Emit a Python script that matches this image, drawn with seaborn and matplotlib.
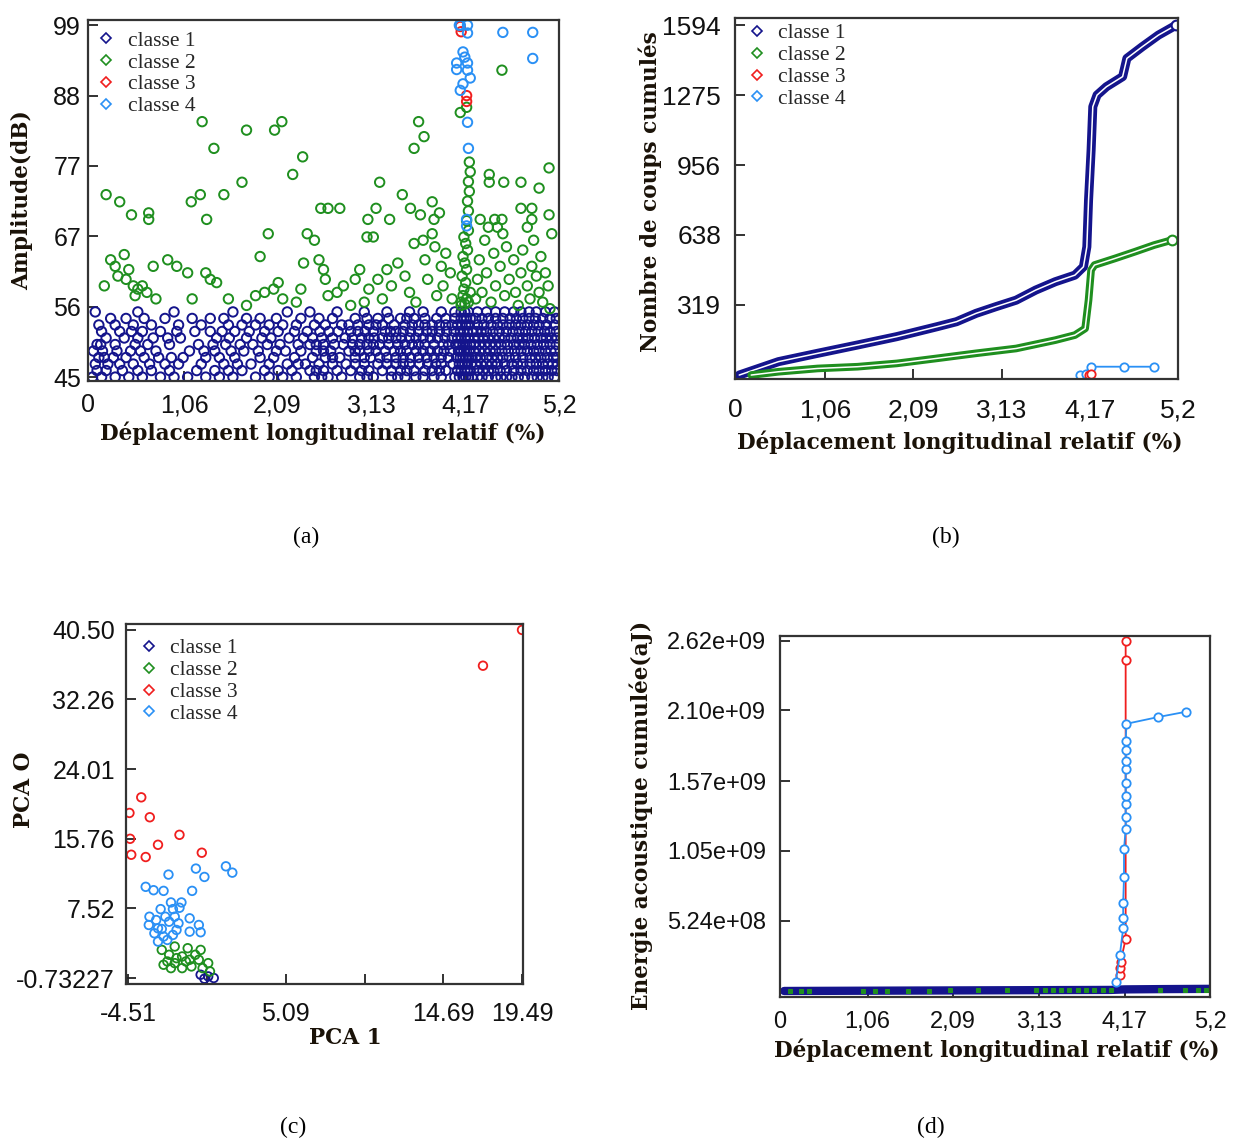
import numpy as np
import pandas as pd
import matplotlib
matplotlib.use('Agg')
import matplotlib.pyplot as plt
from matplotlib.lines import Line2D
from matplotlib.markers import MarkerStyle
import seaborn as sns

# couleurs des classes
col_c1 = '#14148c'
col_c2 = '#1f8f1f'
col_c3 = '#f01e1e'
col_c4 = '#2a90f5'
classes = ['classe 1', 'classe 2', 'classe 3', 'classe 4']

# ---------------- (a) amplitude / deplacement ----------------
dep_ticks = [0, 1.06, 2.09, 3.13, 4.17, 5.2]
dep_labels = ['0', '1,06', '2,09', '3,13', '4,17', '5,2']
amp_ticks = [45, 55.8, 66.6, 77.4, 88.2, 99]
amp_labels = ['45', '56', '67', '77', '88', '99']

# classe 1 : une ligne de positions par niveau d'amplitude (dB entiers)
c1_db = [45, 46, 47, 48, 49, 50, 51, 52, 53, 54, 55]
c1_rows = [
    [0.05, 0.15, 0.3, 0.45, 0.6, 0.8, 0.95, 1.1, 1.3, 1.45, 1.6, 1.85, 2.0, 2.15, 2.3, 2.5, 2.65, 2.8, 3.0, 3.15,
     3.35, 3.5, 3.7, 3.9, 4.05, 4.1, 4.14, 4.17, 4.2, 4.24, 4.35, 4.5, 4.62, 4.75, 4.9, 5.02, 5.15,
     2.58, 3.08, 3.42, 3.62, 3.82, 4.3, 4.42, 4.56, 4.68, 4.82, 4.96, 5.08],
    [0.1, 0.2, 0.38, 0.55, 0.7, 0.9, 1.2, 1.4, 1.55, 1.7, 1.95, 2.1, 2.25, 2.45, 2.6, 2.75, 2.9, 3.1, 3.25, 3.45,
     3.6, 3.8, 3.95, 4.08, 4.12, 4.16, 4.19, 4.22, 4.3, 4.42, 4.55, 4.7, 4.85, 4.98, 5.12,
     2.52, 3.02, 3.35, 3.52, 3.72, 3.88, 4.36, 4.48, 4.62, 4.78, 4.92, 5.05, 5.18],
    [0.08, 0.22, 0.35, 0.5, 0.68, 0.85, 1.0, 1.25, 1.5, 1.65, 1.8, 2.0, 2.2, 2.4, 2.55, 2.7, 2.85, 3.05, 3.2, 3.4,
     3.55, 3.75, 3.9, 4.03, 4.1, 4.13, 4.16, 4.19, 4.23, 4.28, 4.4, 4.52, 4.68, 4.8, 4.95, 5.08, 5.18,
     2.32, 2.95, 3.3, 3.48, 3.66, 3.84, 4.34, 4.46, 4.6, 4.74, 4.88, 5.02, 5.13],
    [0.12, 0.18, 0.28, 0.42, 0.62, 0.78, 0.92, 1.05, 1.3, 1.45, 1.62, 1.9, 2.05, 2.28, 2.48, 2.62, 2.78, 2.95, 3.12,
     3.3, 3.48, 3.65, 3.82, 3.98, 4.07, 4.11, 4.14, 4.17, 4.2, 4.24, 4.33, 4.46, 4.58, 4.72, 4.88, 5.0, 5.14,
     2.7, 3.05, 3.22, 3.4, 3.56, 3.74, 3.9, 4.28, 4.4, 4.52, 4.65, 4.8, 4.94, 5.07, 5.18],
    [0.06, 0.16, 0.32, 0.47, 0.58, 0.75, 1.12, 1.28, 1.4, 1.58, 1.72, 1.88, 2.08, 2.18, 2.35, 2.52, 2.68, 2.88, 3.0,
     3.18, 3.38, 3.52, 3.7, 3.86, 4.0, 4.09, 4.12, 4.15, 4.18, 4.21, 4.26, 4.38, 4.5, 4.64, 4.78, 4.92, 5.05, 5.16,
     2.6, 2.95, 3.1, 3.28, 3.45, 3.62, 3.78, 3.93, 4.32, 4.44, 4.57, 4.71, 4.85, 4.98, 5.11],
    [0.1, 0.14, 0.3, 0.52, 0.66, 0.9, 1.22, 1.38, 1.52, 1.68, 1.82, 1.98, 2.12, 2.32, 2.45, 2.6, 2.72, 2.92, 3.08,
     3.22, 3.42, 3.58, 3.72, 3.92, 4.06, 4.1, 4.14, 4.18, 4.22, 4.32, 4.44, 4.56, 4.7, 4.82, 4.96, 5.1,
     2.52, 2.82, 3.0, 3.15, 3.32, 3.5, 3.65, 3.82, 3.98, 4.26, 4.38, 4.5, 4.63, 4.76, 4.89, 5.03, 5.17],
    [0.2, 0.4, 0.55, 0.72, 0.88, 1.02, 1.42, 1.56, 1.75, 1.92, 2.02, 2.22, 2.38, 2.58, 2.7, 2.84, 3.02, 3.16, 3.32,
     3.46, 3.62, 3.78, 3.94, 4.08, 4.12, 4.16, 4.2, 4.27, 4.36, 4.48, 4.6, 4.74, 4.86, 5.0, 5.12,
     2.48, 2.92, 3.1, 3.25, 3.4, 3.55, 3.7, 3.86, 4.02, 4.31, 4.42, 4.54, 4.67, 4.8, 4.93, 5.06, 5.18],
    [0.15, 0.35, 0.48, 0.6, 0.8, 0.98, 1.18, 1.35, 1.48, 1.62, 1.78, 1.95, 2.1, 2.28, 2.42, 2.56, 2.76, 2.9, 3.06,
     3.28, 3.4, 3.56, 3.74, 3.88, 4.04, 4.11, 4.15, 4.19, 4.25, 4.34, 4.47, 4.62, 4.76, 4.9, 5.04, 5.17,
     2.66, 2.98, 3.15, 3.34, 3.48, 3.65, 3.8, 3.96, 4.29, 4.4, 4.54, 4.69, 4.83, 4.97, 5.1],
    [0.12, 0.3, 0.5, 0.7, 1.0, 1.25, 1.55, 1.7, 1.85, 2.0, 2.15, 2.3, 2.5, 2.62, 2.8, 2.98, 3.1, 3.25, 3.5, 3.65,
     3.8, 3.95, 4.08, 4.13, 4.17, 4.21, 4.3, 4.45, 4.58, 4.72, 4.85, 4.98, 5.15,
     2.88, 3.18, 3.38, 3.58, 3.72, 3.88, 4.02, 4.37, 4.52, 4.65, 4.78, 4.92, 5.06],
    [0.25, 0.42, 0.62, 0.85, 1.15, 1.35, 1.5, 1.75, 1.9, 2.08, 2.35, 2.55, 2.7, 2.95, 3.2, 3.45, 3.6, 3.85, 4.05,
     4.12, 4.15, 4.18, 4.22, 4.35, 4.5, 4.66, 4.8, 4.94, 5.1,
     3.08, 3.32, 3.52, 3.72, 3.95, 4.28, 4.42, 4.58, 4.73, 4.87, 5.02, 5.17],
    [0.08, 0.55, 0.95, 1.6, 2.2, 2.45, 2.75, 3.05, 3.3, 3.55, 3.9, 4.12, 4.16, 4.2, 4.4, 4.6, 4.78, 4.95, 5.15,
     3.7, 4.05, 4.3, 4.5, 4.7, 4.87, 5.05],
]

c2_x = [0.20, 0.35, 0.48, 0.67, 0.67, 1.14, 1.24, 1.26, 1.39, 1.31, 1.50, 1.70, 1.75, 2.06, 2.14, 1.99, 2.26, 2.37,
        2.57, 2.65, 2.78, 3.22, 3.09, 3.18, 3.33, 3.47, 3.60, 3.65, 3.71, 3.56, 3.67, 3.80, 3.88, 3.82, 4.57, 4.43,
        4.43, 4.59, 4.78, 4.98, 5.09, 4.78, 4.90, 5.09, 4.90, 4.33, 4.49, 4.57, 4.18, 4.11,
        0.18, 0.25, 0.30, 0.33, 0.40, 0.42, 0.45, 0.50, 0.52, 0.55, 0.60, 0.65, 0.72, 0.75, 0.88, 0.98, 1.10, 1.15,
        1.30, 1.35, 1.42, 1.55, 1.75, 1.85, 1.90, 1.95, 2.05, 2.10, 2.15, 2.30, 2.35, 2.38, 2.42, 2.50, 2.55, 2.60,
        2.62, 2.65, 2.75, 2.82, 2.90, 2.95, 3.00, 3.05, 3.10, 3.08, 3.15, 3.20, 3.25, 3.30, 3.35, 3.42, 3.50, 3.55,
        3.60, 3.62, 3.70, 3.72, 3.75, 3.80, 3.83, 3.85, 3.90, 3.92, 3.95, 4.00, 4.02,
        4.12, 4.14, 4.15, 4.17, 4.13, 4.18, 4.16, 4.14, 4.19, 4.17, 4.15, 4.20, 4.18, 4.20, 4.19, 4.21, 4.20, 4.22,
        4.21, 4.12, 4.16, 4.20, 4.18, 4.22,
        4.28, 4.30, 4.32, 4.35, 4.38, 4.40, 4.45, 4.48, 4.50, 4.55, 4.58, 4.60, 4.62, 4.65, 4.70, 4.72, 4.75, 4.78,
        4.80, 4.85, 4.88, 4.90, 4.92, 4.95, 4.98, 5.00, 5.02, 5.05, 5.08, 5.10, 5.12, 4.42, 4.52, 4.85]
c2_y = [73.0, 71.9, 69.9, 70.2, 69.2, 71.9, 73.0, 84.2, 80.1, 69.2, 73.0, 74.9, 82.9, 82.9, 84.2, 67.0, 76.1, 78.8,
        70.9, 70.9, 70.9, 74.9, 69.2, 70.9, 69.2, 73.0, 80.1, 84.2, 81.9, 70.9, 69.9, 71.9, 70.2, 69.2, 92.1, 76.1,
        74.9, 74.9, 74.9, 74.0, 77.1, 70.9, 70.9, 69.9, 69.2, 69.2, 69.2, 69.2, 86.4, 85.6,
        59, 63, 62, 60.5, 63.8, 60, 61.5, 59, 57.5, 58.5, 59, 58, 62, 57, 63, 62, 61, 57,
        61, 60, 59.5, 57, 56, 57.5, 63.5, 58, 58.5, 59.5, 57, 56.5, 58.5, 62.5, 67, 66, 63, 61.5,
        60, 57.5, 58, 59, 56, 60, 61.5, 56.5, 58.5, 66.5, 66.5, 60, 57, 61.5, 59, 62.5, 60.5, 58,
        65.5, 56.5, 66, 63, 60, 67, 65, 57.5, 62, 59, 64, 61, 57,
        56.5, 57.5, 58.5, 59.5, 60.5, 61.5, 62.5, 63.5, 64.5, 65.5, 66.5, 67.5, 69, 70.5, 72, 73.5, 75, 76.5,
        78, 56, 56.2, 56.5, 57, 58,
        57, 60, 63, 58, 66, 61, 56.5, 64, 59, 62, 67, 57.5, 65, 60, 63, 58, 56, 61,
        64.5, 59, 57, 62, 66, 60.5, 58, 63.5, 56.5, 61, 59, 55.5, 67, 68, 68, 68]

c3_x = [4.11, 4.12, 4.18, 4.18]
c3_y = [98.8, 98.0, 88.2, 87.3]
c4_x = [4.10, 4.11, 4.19, 4.19, 4.58, 4.91, 4.91, 4.14, 4.16, 4.07, 4.19, 4.07, 4.19, 4.22, 4.14, 4.11, 4.19,
        4.20, 4.18, 4.18]
c4_y = [99.0, 99.0, 99.0, 97.8, 97.9, 97.9, 93.9, 94.9, 94.1, 93.2, 93.2, 92.2, 92.1, 90.9, 90.0, 89.0, 84.1,
        80.1, 69.2, 68.2]

# ---------------- (b) coups cumules ----------------
coups_ticks = [0, 319, 638, 956, 1275, 1594]
coups_labels = ['', '319', '638', '956', '1275', '1594']
b1_x = [0.05, 0.51, 0.97, 1.44, 1.90, 2.37, 2.60, 2.83, 3.06, 3.30, 3.53, 3.76, 3.99, 4.09, 4.13, 4.15, 4.18,
        4.20, 4.25, 4.36, 4.55, 4.60, 4.78, 4.97, 5.18]
b1_y = [0, 61, 99, 137, 175, 220, 243, 281, 311, 341, 387, 425, 455, 493, 584, 797, 1024, 1222, 1275, 1313,
        1359, 1442, 1495, 1548, 1594]
b2_x = [0.19, 0.51, 0.97, 1.44, 1.90, 2.37, 2.83, 3.30, 3.76, 3.99, 4.11, 4.15, 4.18, 4.22, 4.46, 4.69, 4.92, 5.13]
b2_y = [0, 15, 30, 38, 53, 76, 99, 121, 159, 182, 212, 341, 478, 501, 531, 561, 592, 615]
b3_x = [4.15, 4.18]
b3_y = [0, 3]
b4_x = [4.05, 4.12, 4.18, 4.57, 4.92]
b4_y = [0, 5, 38, 38, 38]

# ---------------- (c) ACP ----------------
pc1_ticks = [-4.51, 0.29, 5.09, 9.89, 14.69, 19.49]
pc1_labels = ['-4.51', '', '5.09', '', '14.69', '19.49']
pc0_ticks = [-0.73227, 7.52, 15.76, 24.01, 32.26, 40.50]
pc0_labels = ['-0.73227', '7.52', '15.76', '24.01', '32.26', '40.50']
p1_x = [-0.10, 0.36, 0.70, 0.13]
p1_y = [-0.34, -0.54, -0.73, -0.81]
p2_x = [-2.47, -1.68, -0.89, -0.10, -2.02, -1.23, -0.43, -2.36, -1.68, -1.00, -0.21, 0.36, -1.91, -1.23, -0.66,
        0.02, -1.57, -0.77, -2.13, 0.47]
p2_y = [2.60, 3.00, 2.80, 2.60, 2.02, 1.82, 2.02, 0.84, 1.03, 1.23, 1.43, 1.03, 0.44, 0.44, 0.64, 0.44, 1.62,
        1.43, 1.23, 0.05]
p3_x = [19.49, 17.11, -4.44, -3.72, -3.20, -4.40, -4.33, -3.45, -2.70, -1.39, -0.03]
p3_y = [40.5, 36.26, 18.82, 20.67, 18.31, 15.76, 13.87, 13.60, 15.05, 16.23, 14.11]
p4_x = [-2.06, -0.39, 0.13, 1.44, 1.83, -3.45, -2.97, -2.36, -0.62, -1.91, -1.27, -2.54, -1.79, -1.39, -3.22,
        -2.81, -2.25, -1.68, -0.77, -3.26, -2.70, -2.02, -1.45, -0.21, -0.77, -0.10, -2.92, -2.36, -1.79, -2.70,
        -2.13, -2.47, -1.57]
p4_y = [11.52, 12.23, 11.24, 12.50, 11.75, 10.07, 9.67, 9.59, 9.59, 8.22, 8.22, 7.43, 7.43, 7.59, 6.53, 6.14,
        6.53, 6.53, 6.34, 5.55, 5.16, 5.94, 5.75, 5.55, 4.76, 4.69, 4.57, 4.18, 4.37, 3.59, 3.78, 5.08, 4.96]

# ---------------- (d) energie cumulee ----------------
ener_ticks = [0, 5.24e8, 1.05e9, 1.57e9, 2.10e9, 2.62e9]
ener_labels = ['', '5.24e+08', '1.05e+09', '1.57e+09', '2.10e+09', '2.62e+09']
d1_x = [0.05, 1.0, 2.0, 3.0, 4.0, 4.17, 4.6, 5.2]
d1_y = [0, 2e6, 4e6, 6e6, 8e6, 1.2e7, 1.4e7, 1.6e7]
d2_x = [0.12, 0.25, 0.35, 1.0, 1.15, 1.3, 1.55, 1.8, 2.05, 2.4, 2.75, 3.1, 3.2, 3.3, 3.4, 3.5, 3.6, 3.7, 3.8,
        3.9, 4.0, 4.6, 4.9, 5.05, 5.15]
d2_y = [1e6, 1e6, 2e6, 2e6, 2e6, 3e6, 3e6, 3e6, 4e6, 4e6, 4e6, 5e6, 5e6, 5e6, 5e6, 6e6, 6e6, 6e6, 6e6, 6e6,
        7e6, 8e6, 8e6, 9e6, 9e6]
d3_x = [4.11, 4.11, 4.12, 4.18, 4.18, 4.18]
d3_y = [1.2e8, 1.7e8, 2.2e8, 3.9e8, 2.48e9, 2.62e9]
d4_x = [4.06, 4.11, 4.15, 4.15, 4.15, 4.16, 4.16, 4.18, 4.18, 4.18, 4.18, 4.18, 4.18, 4.18, 4.18, 4.18, 4.19,
        4.57, 4.91]
d4_y = [0.07e9, 0.27e9, 0.47e9, 0.55e9, 0.66e9, 0.85e9, 1.06e9, 1.21e9, 1.30e9, 1.40e9, 1.46e9, 1.56e9, 1.66e9,
        1.72e9, 1.80e9, 1.87e9, 2.00e9, 2.05e9, 2.09e9]

sns.set_theme(style='white')
plt.rcParams['font.family'] = ['Liberation Sans', 'DejaVu Sans']
plt.rcParams['axes.linewidth'] = 1.6
plt.rcParams['axes.edgecolor'] = '#333333'

W, H = 1244, 1140
fig = plt.figure(figsize=(W / 100, H / 100), dpi=100)
fig.patch.set_facecolor('white')


def box(x0, y0, x1, y1):
    return [x0 / W, 1 - y1 / H, (x1 - x0) / W, (y1 - y0) / H]


def pt(x, y):
    return x / W, 1 - y / H


open_o = MarkerStyle('o', fillstyle='none')
lab_font = dict(family='DejaVu Serif', weight='bold', size=15.6, color='#1a1208')
serif = ['Liberation Serif', 'DejaVu Serif']


def finish(ax, size, padx, pady):
    ax.tick_params(direction='in', length=7, width=1.3, color='#222222', labelsize=size,
                   labelcolor='#111111', bottom=True, left=True)
    ax.tick_params(axis='x', pad=padx)
    ax.tick_params(axis='y', pad=pady)
    for s in ax.spines.values():
        s.set_visible(True)
        s.set_color('#333333')
        s.set_linewidth(1.6)
    ax.set_xlabel('')
    ax.set_ylabel('')


def add_legend(ax, anchor):
    handles = [Line2D([], [], marker='D', ls='none', mfc='none', mec=c, mew=1.2, ms=5.5)
               for c in [col_c1, col_c2, col_c3, col_c4]]
    ax.legend(handles, classes, loc='upper left', bbox_to_anchor=anchor, frameon=False,
              prop={'family': serif, 'size': 15.5}, handlelength=0.8, handletextpad=0.6,
              labelspacing=0.08, borderpad=0, borderaxespad=0)


# ----- (a)
ax = fig.add_axes(box(88, 20, 559, 381))
c1_x = [x for row in c1_rows for x in row]
c1_y = [db for db, row in zip(c1_db, c1_rows) for _ in row]
for xs, ys, c in [(c1_x, c1_y, col_c1), (c2_x, c2_y, col_c2), (c3_x, c3_y, col_c3), (c4_x, c4_y, col_c4)]:
    sns.scatterplot(x=xs, y=ys, ax=ax, marker=open_o, color=c, s=46, linewidth=1.4)
ax.set_xlim(0, 5.2)
ax.set_ylim(44.4, 99.8)
ax.set_xticks(dep_ticks, dep_labels)
ax.set_yticks(amp_ticks, amp_labels)
finish(ax, 18, 9, 5)
add_legend(ax, (0.02, 0.97))
fig.text(*pt(323, 433), 'Déplacement longitudinal relatif (%)', ha='center', va='center', **lab_font)
fig.text(*pt(22, 200), 'Amplitude(dB)', ha='center', va='center', rotation=90, **lab_font)

# ----- (b)
ax = fig.add_axes(box(735, 18, 1178, 379))
for xs, ys, c, lw in [(b1_x, b1_y, col_c1, 6.5), (b2_x, b2_y, col_c2, 5.5)]:
    sns.lineplot(x=xs, y=ys, ax=ax, color=c, lw=lw, estimator=None, sort=False)
    sns.lineplot(x=xs, y=ys, ax=ax, color='white', lw=1.1, estimator=None, sort=False)
ax.plot(b1_x[-1], b1_y[-1], 'o', mfc='white', mec=col_c1, ms=7, mew=1.5)
ax.plot(b2_x[-1], b2_y[-1], 'o', mfc='white', mec=col_c2, ms=7, mew=1.5)
sns.lineplot(x=b4_x, y=b4_y, ax=ax, color=col_c4, lw=1.3, estimator=None, sort=False,
             marker='o', mfc='white', mec=col_c4, ms=6, mew=1.3)
sns.lineplot(x=b3_x, y=b3_y, ax=ax, color=col_c3, lw=1.3, estimator=None, sort=False,
             marker='o', mfc='white', mec=col_c3, ms=6, mew=1.3)
ax.set_xlim(0, 5.2)
ax.set_ylim(-18, 1626)
ax.set_xticks(dep_ticks, dep_labels)
ax.set_yticks(coups_ticks, coups_labels)
finish(ax, 19, 14, 10)
add_legend(ax, (0.03, 0.985))
fig.text(*pt(960, 442), 'Déplacement longitudinal relatif (%)', ha='center', va='center', **lab_font)
fig.text(*pt(650, 192), 'Nombre de coups cumulés', ha='center', va='center', rotation=90, **lab_font)

# ----- (c)
ax = fig.add_axes(box(126, 624, 523, 984))
for xs, ys, c in [(p1_x, p1_y, col_c1), (p2_x, p2_y, col_c2), (p3_x, p3_y, col_c3), (p4_x, p4_y, col_c4)]:
    sns.scatterplot(x=xs, y=ys, ax=ax, marker=open_o, color=c, s=38, linewidth=1.3)
ax.set_xlim(-4.65, 19.55)
ax.set_ylim(-1.44, 41.2)
ax.set_xticks(pc1_ticks, pc1_labels)
ax.set_yticks(pc0_ticks, pc0_labels)
finish(ax, 18, 13, 8)
add_legend(ax, (0.035, 0.96))
fig.text(*pt(345, 1038), 'PCA 1', ha='center', va='center', **lab_font)
fig.text(*pt(24, 790), 'PCA O', ha='center', va='center', rotation=90, **lab_font)

# ----- (d)
ax = fig.add_axes(box(780, 636, 1210, 997))
sns.lineplot(x=d1_x, y=d1_y, ax=ax, color=col_c1, lw=6, estimator=None, sort=False)
sns.lineplot(x=d2_x, y=d2_y, ax=ax, color=col_c2, lw=0, estimator=None, sort=False,
             marker='s', ms=3, mfc=col_c2, mec=col_c2)
sns.lineplot(x=d3_x, y=d3_y, ax=ax, color=col_c3, lw=1.3, estimator=None, sort=False,
             marker='o', mfc='white', mec=col_c3, ms=6, mew=1.3)
sns.lineplot(x=d4_x, y=d4_y, ax=ax, color=col_c4, lw=1.3, estimator=None, sort=False,
             marker='o', mfc='white', mec=col_c4, ms=6, mew=1.3)
ax.set_xlim(0, 5.2)
ax.set_ylim(-4.5e7, 2.657e9)
ax.set_xticks(dep_ticks, dep_labels)
ax.set_yticks(ener_ticks, ener_labels)
finish(ax, 17, 10, 10)
fig.text(*pt(997, 1050), 'Déplacement longitudinal relatif (%)', ha='center', va='center', **lab_font)
fig.text(*pt(641, 815), 'Energie acoustique cumulée(aJ)', ha='center', va='center', rotation=90, **lab_font)

# legendes des sous-figures
for x, y, t in [(306, 537, '(a)'), (946, 537, '(b)'), (293, 1127, '(c)'), (931, 1127, '(d)')]:
    fig.text(*pt(x, y), t, ha='center', va='center', family=serif, size=17, color='black')

fig.savefig('out.png', dpi=100)
